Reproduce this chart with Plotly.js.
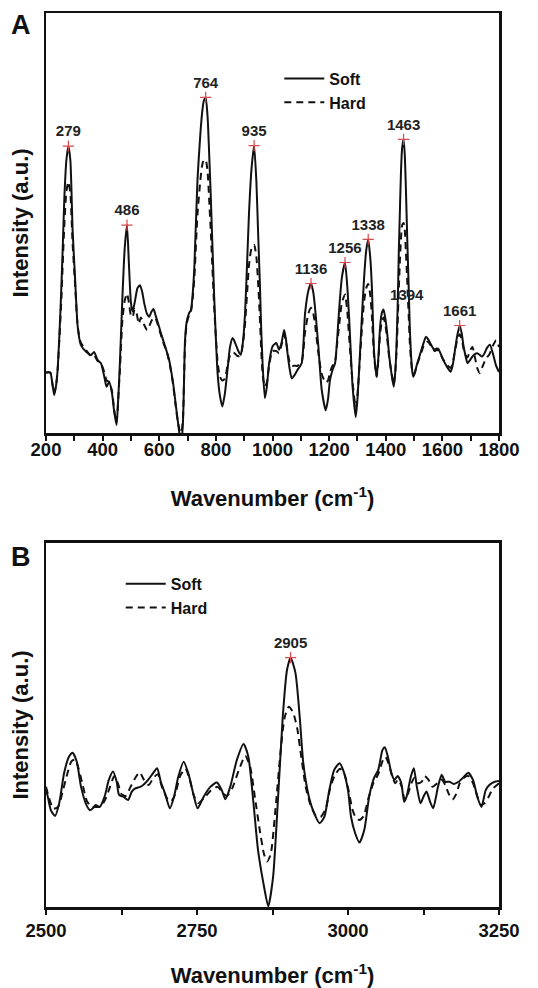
<!DOCTYPE html>
<html>
<head>
<meta charset="utf-8">
<script src="https://cdn.plot.ly/plotly-3.0.1.min.js"></script>
<style>html,body{margin:0;padding:0;background:#fff;}#chart{width:538px;height:988px;}</style>
</head>
<body>
<div id="chart"></div>
<script>
// Panel A: 200-1800 cm-1 (arbitrary intensity units)
const softA_x = [200,215,222,229,236,241,247,253,259,265,272,279,286,294,303,312,323,341,359,370,382,394,406,414,423,433,441,449,455,461,470,478,486,493,500,506,515,523,532,540,547,556,565,572,580,587,594,605,617,626,635,642,649,657,665,673,678,684,688,691,697,705,712,718,724,735,745,751,757,764,771,776,782,794,806,814,823,832,841,850,859,866,873,881,888,896,903,910,917,926,935,943,949,955,960,965,973,980,988,1000,1014,1023,1032,1041,1047,1053,1060,1068,1078,1088,1103,1115,1127,1136,1144,1150,1162,1174,1188,1196,1203,1212,1221,1228,1236,1245,1256,1264,1271,1283,1294,1300,1309,1316,1323,1331,1338,1345,1351,1359,1368,1374,1380,1386,1392,1398,1405,1412,1420,1428,1433,1437,1442,1446,1450,1454,1458,1463,1467,1471,1476,1481,1485,1489,1493,1497,1503,1508,1517,1526,1534,1542,1550,1557,1565,1572,1580,1586,1595,1603,1616,1629,1636,1643,1652,1661,1668,1675,1682,1689,1697,1706,1715,1723,1732,1740,1749,1757,1768,1780,1790,1800];
const softA_y = [14.4,14.4,12,9,11.5,15,23,32.5,44,56.3,65,68.3,65,48.3,36.4,25.3,21,19.4,18.6,19.3,17.4,16.6,13.4,11,12.2,9.5,5,1.9,8,16.7,32.5,44,49.5,40,31,28.9,31.7,34.5,35.2,33.5,30.9,28.5,27.7,28.8,29.5,28,26.5,24,21.4,19.5,17.4,14.8,11.9,7.5,3.1,-1,-3,3,14,22,26.5,28.5,29.3,33,39.6,60.2,71,76,79,79.9,75,67,56.3,32.5,14.3,9,6.3,9.5,15,20.5,22.6,21.8,20.6,19.3,18.6,22,28.5,40,52.3,63,68.4,60,48,36.4,25,16.6,8.3,11,16.6,20.6,21.4,19.8,21.5,24.5,22.5,19,15.5,13,13.8,15,16.6,28.5,34,35.6,33.5,30,20.6,10.2,5.4,8,12.6,15,16.6,22,30,37,40.6,35,26.9,11,3.8,8,19,28,36.4,43.5,46.1,42,34.8,19,13.4,18,25.3,28.5,29.4,27.5,23.8,18.5,14.3,11,14,19,30,42.8,53,62.6,68,69.9,66.5,58.6,46,34.8,25,19,15,13.4,14.3,15.8,17.8,19.8,21.5,22.9,22.3,21.4,20.4,19.8,20.1,20,18.7,17.4,15.8,14.6,16,19,23,25.6,23.8,20.6,18.3,16.6,17.3,18.2,18.8,19,18.6,18.2,19,20.2,21,18.5,16,14.5];

const hardA_x = [200,215,222,229,236,241,247,253,259,265,272,279,286,294,303,312,323,341,359,370,382,394,406,414,423,433,441,449,455,461,470,478,486,493,500,506,513,520,528,535,545,557,565,575,585,594,605,617,626,635,642,649,657,665,673,678,684,688,691,697,705,712,718,724,735,745,751,757,764,771,776,782,794,806,814,823,832,841,850,859,866,873,881,888,896,903,910,917,926,935,943,949,955,960,965,973,980,988,1000,1014,1023,1032,1041,1047,1053,1060,1068,1078,1088,1103,1115,1127,1136,1144,1150,1162,1174,1188,1196,1203,1212,1221,1228,1236,1245,1256,1264,1271,1283,1294,1300,1309,1316,1323,1331,1338,1345,1351,1359,1368,1374,1380,1386,1392,1398,1405,1412,1420,1428,1433,1437,1442,1446,1450,1454,1458,1463,1467,1471,1476,1481,1485,1489,1493,1497,1503,1508,1517,1526,1534,1542,1550,1557,1565,1572,1580,1586,1595,1603,1616,1629,1636,1643,1652,1661,1668,1675,1682,1689,1697,1706,1715,1723,1732,1740,1749,1757,1764,1771,1780,1790,1800];
const hardA_y = [14.4,14.4,12,9.5,11.5,15,22,30,40,50,57.5,59.8,57,45,35,25.3,21.5,19.8,18.3,18.5,17.2,16.6,14.5,12.5,12.2,10,5.5,2.5,8,15,27,31.5,33.2,31,28,27.6,29.5,28.5,26,27.5,26,24.5,25.5,27,27.5,26,23.5,21,19.5,17,14.5,11.5,7,3,0.5,0,4,14,21,26,28,29,32,37,52,60,63.5,65,65,62,56,48,30,17,13.5,12.5,13,16,18.5,19.2,19,18.5,18.3,18.6,21.5,26,33,40,44,44.8,42,36,28,20,14,11,12,16,19.5,19.5,19,21,23.5,22,19.5,17,16,16,16,17,24,28.5,29.8,28.5,26,19,14,12,12.5,14.5,16,17,21,26,31,33,29,22.5,12,6,9,18,25,31,34.5,35.5,33,28,18,13.4,17.5,23.5,26.5,27.5,26,22.5,18,14.5,11.5,14,18,26,34,41,46.5,49.5,50,48.5,43.5,36,28,21.5,17.5,15,14,14.5,15.8,17.5,19.2,20.8,21.5,21.8,21,20.8,19.5,19.8,19.6,18.5,17.5,16.2,15.5,16.5,19,22,23.5,22.5,20,18.5,18,19.5,20.5,18,15.5,14.3,15.5,17,18,18.5,19.5,21,22,20.5];

const peaksA_x = [279,486,764,935,1136,1256,1338,1394,1463,1661];
const peaksA_y = [68.3,49.5,79.9,68.4,35.6,40.6,46.1,29.4,69.9,25.6];
const peaksA_labels = ['279','486','764','935','1136','1256','1338','1394','1463','1661'];

// Panel B: 2500-3250 cm-1
const softB_x = [2500,2503,2508,2515,2522,2530,2538,2544,2551,2558,2567,2573,2578,2582,2589,2597,2604,2611,2617,2621,2629,2636,2642,2647,2656,2661,2669,2677,2684,2690,2697,2705,2712,2719,2728,2736,2744,2751,2761,2772,2783,2791,2797,2805,2816,2827,2835,2843,2851,2860,2868,2876,2884,2892,2899,2905,2913,2920,2926,2934,2942,2953,2961,2969,2977,2986,2992,3000,3005,3012,3019,3027,3035,3043,3050,3057,3061,3066,3072,3077,3082,3088,3093,3097,3104,3109,3114,3120,3125,3130,3136,3141,3149,3155,3161,3168,3175,3183,3191,3199,3207,3214,3221,3228,3234,3243,3250];
const softB_y = [32.1,30.3,26.6,25,28.6,36.8,41.3,42.4,39.9,33,28,26.6,27.2,28,27.5,30.3,34.9,37.2,34.4,30.8,30.2,29.4,31.7,32.5,33,33.5,34.9,36.7,38.1,34.4,31.2,27.1,30.3,35.8,39.9,36.5,31,27.1,30.3,33,34.2,32.1,29.6,33,40.4,44.8,41.3,29.4,15.7,6.5,0.2,8.3,29.4,52.3,65.1,68.5,64.3,52.3,39.5,31.2,26.6,23,24.8,32.1,37.6,39.5,37.6,32.1,24.8,20.2,17.7,21.2,30.3,35.4,37.6,43.1,43.9,41.3,36.7,34.9,36,34.2,28.9,30.3,35.8,38.1,33,28.5,30.3,31.7,28.9,27.1,33,36.3,34.4,34.4,33.8,34.4,35.6,36.9,34.9,30.3,27.5,32.1,33.5,34.4,34.6];

const hardB_x = [2500,2505,2512,2520,2528,2536,2542,2548,2554,2560,2568,2576,2584,2590,2598,2606,2613,2619,2625,2632,2640,2648,2655,2662,2670,2678,2685,2692,2700,2707,2714,2722,2731,2738,2745,2752,2762,2773,2784,2792,2799,2808,2819,2830,2838,2846,2854,2861,2866,2872,2880,2888,2895,2902,2909,2916,2922,2930,2938,2947,2955,2963,2971,2979,2987,2994,3001,3007,3013,3019,3026,3034,3042,3050,3057,3062,3067,3073,3078,3083,3089,3094,3099,3105,3110,3116,3122,3127,3133,3140,3148,3155,3161,3167,3173,3179,3185,3192,3199,3207,3214,3220,3226,3232,3240,3250];
const hardB_y = [33,30,27,27.5,32,37,40,40.5,38,34,29,27.5,27.5,27.5,29.5,33,36,34,31,30.5,33,35.5,37,35,33.5,35.5,36.5,33,30,29,31,36,38,35,30.5,28.5,30,32,33,31.5,30.5,32.5,37.5,41.5,38.5,30,21,14.5,12.5,14.5,27,42,52,55,53.5,49,42,33,28,25,24.8,27,33,36.5,38,36.5,32,27,24.5,23.9,25,30,34,36.5,40,41.3,39.5,36,34,35,33,29.4,31,34,35.5,34,34.4,36,35,33,34,35,33.5,31,29.5,31,34,35.5,36,34,30.5,28,28.5,30,32.5,34];

const peaksB_x = [2905];
const peaksB_y = [68.5];
const peaksB_labels = ['2905'];

const FONT = 'Liberation Sans, Arial, Helvetica, sans-serif';
const INK = '#111';
const STAR = '#d9494d';
const solid = {color: INK, width: 2, shape: 'spline', smoothing: 0.6};
const dashed = {color: INK, width: 2, dash: '7px,5px', shape: 'spline', smoothing: 0.6};
const labelFont = {family: FONT, size: 15, weight: 'bold', color: '#222'};

const traces = [
  {x: softA_x, y: softA_y, xaxis: 'x', yaxis: 'y', mode: 'lines', name: 'Soft', line: solid, legend: 'legend', hoverinfo: 'skip'},
  {x: hardA_x, y: hardA_y, xaxis: 'x', yaxis: 'y', mode: 'lines', name: 'Hard', line: dashed, legend: 'legend', hoverinfo: 'skip'},
  {x: peaksA_x, y: peaksA_y, xaxis: 'x', yaxis: 'y', mode: 'markers+text', showlegend: false,
   text: peaksA_labels,
   textposition: peaksA_labels.map(t => t === '1394' ? 'top right' : 'top center'),
   textfont: labelFont,
   marker: {symbol: 'cross-thin', size: 8, color: STAR,
            line: {width: 1.2, color: peaksA_labels.map(t => t === '1394' ? 'rgba(0,0,0,0)' : STAR)}},
   hoverinfo: 'skip'},
  {x: softB_x, y: softB_y, xaxis: 'x2', yaxis: 'y2', mode: 'lines', name: 'Soft', line: solid, legend: 'legend2', hoverinfo: 'skip'},
  {x: hardB_x, y: hardB_y, xaxis: 'x2', yaxis: 'y2', mode: 'lines', name: 'Hard', line: dashed, legend: 'legend2', hoverinfo: 'skip'},
  {x: peaksB_x, y: peaksB_y, xaxis: 'x2', yaxis: 'y2', mode: 'markers+text', showlegend: false,
   text: peaksB_labels, textposition: 'top center',
   textfont: labelFont,
   marker: {symbol: 'cross-thin', size: 8, color: STAR, line: {width: 1.2, color: STAR}},
   hoverinfo: 'skip'}
];

function xax(range, dtick, minor, anchor, labelGap, titleGap) {
  return {
    anchor: anchor, range: range, dtick: dtick, tick0: range[0],
    ticks: 'outside', ticklen: 5, tickwidth: 2, tickcolor: INK, ticklabelstandoff: labelGap,
    minor: {dtick: minor, ticks: 'outside', ticklen: 5, tickwidth: 2, tickcolor: INK, showgrid: false},
    showline: true, linewidth: 2.5, linecolor: INK, mirror: true,
    showgrid: false, zeroline: false, automargin: false,
    tickfont: {family: FONT, size: 18.5, weight: 'bold', color: INK},
    title: {text: 'Wavenumber (cm<sup>-1</sup>)', font: {family: FONT, size: 22, weight: 'bold', color: INK}, standoff: titleGap}
  };
}
function yax(domain, anchor) {
  return {
    anchor: anchor, domain: domain, range: [0, 100],
    showticklabels: false, ticks: '', showline: true, linewidth: 2.5, linecolor: INK, mirror: true,
    showgrid: false, zeroline: false, automargin: false,
    title: {text: 'Intensity (a.u.)', font: {family: FONT, size: 22, weight: 'bold', color: INK}, standoff: 9}
  };
}

const legendFont = {family: FONT, size: 16, weight: 'bold', color: INK};
const layout = {
  width: 538, height: 988,
  margin: {l: 46, r: 39, t: 13, b: 81},
  paper_bgcolor: '#fff', plot_bgcolor: '#fff',
  font: {family: FONT, color: INK},
  showlegend: true,
  xaxis: xax([200, 1800], 200, 100, 'y', -7, 32),
  yaxis: yax([0.5302, 1], 'x'),
  xaxis2: xax([2500, 3250], 250, 125, 'y2', 0, 28),
  yaxis2: yax([0, 0.4072], 'x2'),
  legend: {x: 0.515, y: 0.9456, xanchor: 'left', yanchor: 'top', bgcolor: 'rgba(0,0,0,0)',
           font: legendFont, itemwidth: 40, tracegroupgap: 0},
  legend2: {x: 0.165, y: 0.3806, xanchor: 'left', yanchor: 'top', bgcolor: 'rgba(0,0,0,0)',
            font: legendFont, itemwidth: 40, tracegroupgap: 0},
  annotations: [
    {text: 'A', xref: 'paper', yref: 'paper', x: -0.055, y: 0.9866, xanchor: 'center', yanchor: 'middle',
     showarrow: false, font: {family: FONT, size: 27, weight: 'bold', color: INK}},
    {text: 'B', xref: 'paper', yref: 'paper', x: -0.055, y: 0.3915, xanchor: 'center', yanchor: 'middle',
     showarrow: false, font: {family: FONT, size: 27, weight: 'bold', color: INK}}
  ]
};

Plotly.newPlot('chart', traces, layout, {staticPlot: true, displayModeBar: false});
</script>
</body>
</html>
